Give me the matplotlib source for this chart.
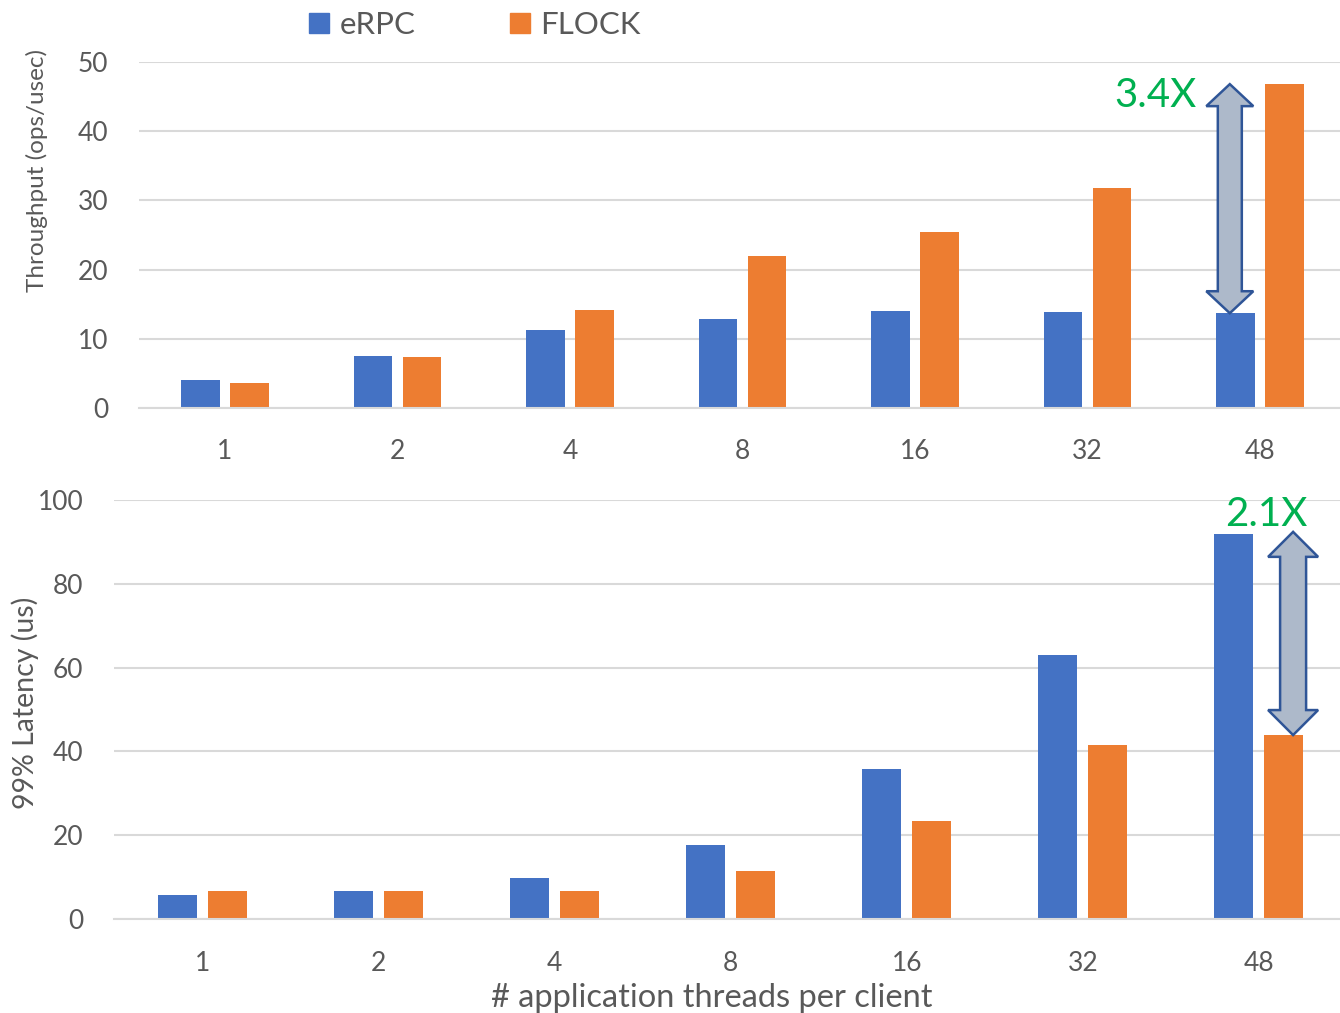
import numpy as np
import matplotlib
matplotlib.use("Agg")
import matplotlib.pyplot as plt
from matplotlib.patches import Polygon, Patch

plt.rcParams["font.family"] = ["Lato", "DejaVu Sans"]

threads = ["1", "2", "4", "8", "16", "32", "48"]
tput_erpc = [4.0, 7.5, 11.3, 12.9, 14.0, 13.9, 13.7]
tput_flock = [3.6, 7.4, 14.2, 22.0, 25.4, 31.8, 46.8]
lat_erpc = [5.7, 6.7, 9.8, 17.7, 35.8, 63.0, 91.9]
lat_flock = [6.7, 6.7, 6.7, 11.5, 23.4, 41.5, 43.9]

BLUE = "#4472C4"
ORANGE = "#ED7D31"
GRID = "#D9D9D9"
TXT = "#595959"
GREEN = "#00B050"


def double_arrow(ax, x, y0, y1, shaft_px, head_px, head_len_px):
    # build the block arrow in pixels, then map back to data coords
    (xc, ya), = ax.transData.transform([(x, y0)])
    (_, yb), = ax.transData.transform([(x, y1)])
    s, h = shaft_px / 2, head_px / 2
    pts = [
        (xc, yb), (xc + h, yb - head_len_px), (xc + s, yb - head_len_px),
        (xc + s, ya + head_len_px), (xc + h, ya + head_len_px), (xc, ya),
        (xc - h, ya + head_len_px), (xc - s, ya + head_len_px),
        (xc - s, yb - head_len_px), (xc - h, yb - head_len_px),
    ]
    pts = ax.transData.inverted().transform(pts)
    ax.add_patch(Polygon(pts, closed=True, facecolor="#ADB9CA",
                         edgecolor="#2F5597", linewidth=1.8, zorder=5))


def style(ax, ymax, step, xpad):
    ax.set_ylim(0, ymax)
    ax.set_yticks(np.arange(0, ymax + 1, step))
    ax.set_xlim(-0.5, len(threads) - 0.5)
    ax.set_xticks(np.arange(len(threads)))
    ax.set_xticklabels(threads)
    ax.grid(axis="y", color=GRID, linewidth=1.5)
    ax.set_axisbelow(True)
    for sp in ["top", "right", "left"]:
        ax.spines[sp].set_visible(False)
    ax.spines["bottom"].set_color(GRID)
    ax.spines["bottom"].set_linewidth(1.5)
    ax.tick_params(length=0, labelsize=19, labelcolor=TXT)
    ax.tick_params(axis="y", pad=22)
    ax.tick_params(axis="x", pad=xpad)


fig = plt.figure(figsize=(13.4, 10.13), dpi=100)
ax1 = fig.add_axes([138.75 / 1340, 0.5972, 1207.5 / 1340, 0.3416])
ax2 = fig.add_axes([114 / 1340, 0.0928, 1233 / 1340, 0.4136])

x = np.arange(len(threads))
w1 = 0.226
ax1.bar(x - 0.142, tput_erpc, w1, color=BLUE)
ax1.bar(x + 0.142, tput_flock, w1, color=ORANGE)
style(ax1, 50, 10, 22)

w2 = 0.222
ax2.bar(x - 0.142, lat_erpc, w2, color=BLUE)
ax2.bar(x + 0.142, lat_flock, w2, color=ORANGE)
style(ax2, 100, 20, 23)
ax2.set_xlabel("# application threads per client", fontsize=23.5, color=TXT)
ax2.xaxis.set_label_coords(0.485, -0.153)

# speedup arrows
double_arrow(ax1, 5.825, tput_erpc[6], tput_flock[6], 24, 47, 22)
ax1.text(5.635, 45.1, "3.4X", color=GREEN, fontsize=29, ha="right", va="center")
double_arrow(ax2, 6.194, lat_flock[6], lat_erpc[6] + 0.5, 26, 50, 25)
ax2.text(6.04, 96.5, "2.1X", color=GREEN, fontsize=29, ha="center", va="center")

fig.text(37 / 1340, 1 - 170 / 1013, "Throughput (ops/usec)", rotation=90,
         ha="center", va="center", fontsize=17.5, color=TXT)
fig.text(25 / 1340, 1 - 703 / 1013, "99% Latency (us)", rotation=90,
         ha="center", va="center", fontsize=20.5, color=TXT)

handles = [Patch(color=BLUE, label="eRPC"), Patch(color=ORANGE, label="FLOCK")]
fig.legend(handles=handles, loc="center", bbox_to_anchor=(475 / 1340, 1 - 25 / 1013),
           ncol=2, frameon=False, fontsize=22.5, handlelength=0.64, handleheight=0.64,
           handletextpad=0.35, columnspacing=3.0, labelcolor=TXT)

fig.savefig("out.png", dpi=100)
